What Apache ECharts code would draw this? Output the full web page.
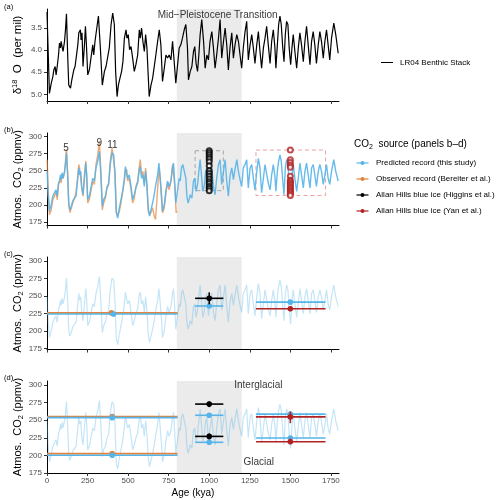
<!DOCTYPE html>
<html><head><meta charset="utf-8">
<script src="https://cdn.jsdelivr.net/npm/echarts@6/dist/echarts.min.js"></script>
<style>html,body{margin:0;padding:0;background:#fff}#c{width:500px;height:500px}</style>
</head><body><div id="c"></div>
<script>
// ---------- DATA ----------
// (a) LR04 benthic stack, delta18O (per mil) vs age (kya)
const lr04Age = [0,15,26,36,42,50,56,63,71,77,83,87,93,99,108,114,120,128,134,145,153,165,173,181,190,196,202,206,210,216,222,231,237,243,251,261,272,282,288,296,307,317,329,341,354,364,374,384,395,405,415,423,432,440,452,460,468,477,487,493,501,509,518,528,538,548,559,569,575,583,591,600,608,616,630,641,651,657,671,682,692,702,712,723,733,743,753,764,774,784,794,805,815,825,835,846,856,866,872,883,
893,903,911,919,928,936,944,954,965,975,985,995,1005,1016,1026,1036,1046,1057,1067,1077,1088,1098,1108,1118,1128,1139,1149,1159,1170,1180,1190,1200,1210,1221,1231,1241,1252,1262,1272,1282,1293,1303,1313,1323,1334,1344,1354,1364,1375,1385,1395,1405,1411,1420,1428,1436,1444,1452,1461,1469,1477,1485,1493,1502,1510,1518,1528,1539,1549,1559,1569,1580,1590,1600,1610,1621,1631,1641,1651,1661,1672,1682,1692,1703,1713,1723,1733,1743,1754,1768,1780,1795];
const lr04D18O = [3.14,4.98,4.75,4.60,4.45,4.37,4.56,4.37,4.11,3.84,3.95,3.80,3.92,4.03,3.80,3.54,3.18,4.18,4.79,4.86,4.67,4.45,4.37,4.41,3.88,3.61,3.65,3.54,3.77,3.61,4.37,3.88,3.46,3.88,4.56,4.45,4.48,3.88,4.11,3.80,3.50,3.23,3.95,4.79,4.48,4.37,4.41,3.95,3.42,3.16,3.42,4.48,5.05,4.79,4.60,4.48,4.26,3.73,3.54,3.73,3.65,3.99,3.92,4.18,4.48,4.33,4.11,3.54,3.73,3.50,3.80,4.03,3.65,3.95,5.05,4.79,4.64,4.48,4.11,3.80,3.54,3.88,4.71,4.41,4.11,4.18,4.11,4.22,3.80,4.26,4.75,4.71,3.95,3.88,3.73,3.54,3.42,3.95,4.67,4.48,
4.37,4.03,3.92,4.30,4.48,4.11,3.65,3.31,3.80,4.41,4.11,4.22,3.80,3.58,3.95,4.41,4.11,3.73,3.31,4.18,3.80,3.50,3.88,4.45,3.95,3.61,4.18,3.88,3.65,3.80,4.11,4.41,3.95,3.58,3.35,4.22,3.88,3.65,3.95,4.30,3.88,3.58,4.03,4.41,3.95,3.73,3.46,3.88,4.30,3.80,3.54,3.95,4.41,3.88,3.42,3.23,3.42,3.88,4.26,3.65,3.35,3.42,3.95,4.33,3.95,3.65,4.03,4.41,3.95,3.61,3.88,4.26,3.80,3.46,3.88,4.33,3.80,3.58,3.88,4.30,3.88,3.58,3.80,4.18,3.80,3.54,3.88,4.22,3.73,3.39,3.65,4.07];

// (b-d) Predicted CO2 record (this study), ppmv
const predAge = [1,7,15,26,36,46,56,63,71,77,83,87,93,99,108,114,120,128,134,140,149,159,169,179,190,196,202,208,214,222,231,239,245,251,261,272,282,292,302,313,323,333,341,349,360,370,380,390,401,411,419,427,436,446,456,466,477,483,491,497,507,518,528,538,548,559,569,575,583,591,600,608,616,624,632,641,651,661,671,682,690,698,706,712,723,733,743,753,764,774,780,788,794,805,815,821,829,837,846,856,862,870,878,
883,893,903,911,919,928,936,944,952,960,969,977,985,995,1005,1016,1026,1036,1046,1057,1067,1077,1088,1098,1108,1118,1128,1139,1149,1159,1170,1180,1190,1200,1210,1221,1231,1241,1252,1262,1272,1282,1293,1303,1313,1323,1334,1344,1354,1364,1375,1385,1395,1405,1411,1420,1428,1436,1444,1452,1461,1469,1477,1485,1493,1502,1510,1518,1528,1539,1549,1559,1569,1580,1590,1600,1610,1621,1631,1641,1651,1661,1672,1682,1692,1703,1713,1723,1733,1743,1754,1768,1780,1795];
const predCO2 = [249,215,191,201,213,218,222,213,232,235,244,237,247,239,249,259,276,239,203,193,198,206,210,213,239,254,244,249,227,215,239,261,244,208,213,215,239,235,254,264,278,239,198,208,213,225,230,259,276,273,244,189,181,196,208,220,239,256,254,239,244,227,208,215,225,232,252,256,239,244,227,249,230,196,184,193,203,215,230,244,261,239,215,191,201,220,235,227,235,254,261,230,203,201,239,235,254,259,261,239,213,203,210,
215,210,235,239,220,230,249,266,244,220,227,247,254,222,239,254,227,215,239,259,266,230,249,266,235,213,242,254,237,252,266,249,237,227,254,259,266,225,254,259,239,222,249,268,254,218,239,259,261,232,222,244,259,242,220,249,264,273,264,239,215,254,266,259,230,210,244,259,239,220,239,261,244,225,249,261,244,225,254,259,244,227,249,259,249,230,244,259,239,230,249,266,249,235];

// (b) Observed CO2 record (Bereiter et al.), ppmv
const obsAge = [1,7,15,26,36,46,56,63,71,77,83,87,93,99,108,114,120,128,134,142,149,159,169,179,190,196,202,208,214,222,231,239,245,251,261,272,282,292,302,313,323,333,341,349,360,370,380,390,401,411,419,427,436,446,456,466,477,483,491,497,507,518,528,538,548,559,569,575,583,591,600,608,616,624,632,641,651,661,669,677,686,692,698,706,712,723,733,743,753,764,774,780,788,796,802];
const obsCO2 = [266,225,186,193,208,213,220,208,230,232,239,232,244,239,247,264,281,244,201,189,191,203,210,218,244,259,252,254,225,213,244,264,239,203,208,210,235,230,259,273,293,244,193,203,210,227,232,264,283,281,249,191,184,191,203,218,235,249,252,235,239,222,203,210,227,235,256,266,244,249,232,254,227,191,186,189,196,184,179,206,239,254,237,208,189,196,218,232,222,235,259,261,227,189,191];

// (b) Allan Hills blue ice samples (~1000 kya and ~1500 kya)
const higginsAge = 1000;
const higginsCO2 = [279,276,273,270,267,263,257,250,246,242,238,234,231,227,224,221];
const yanAge = 1500;
const yanCO2 = [280,266,262,258,255,242,236,234,232,230,228,226,224,222,220,218,216,214];
const higginsWindow = [913, 1087];
const yanWindow = [1288, 1717];

// (c) mean CO2: [age, mean, windowStart, windowEnd, low, high]
const cObserved  = [[398, 226.2, 0, 805, 226.2, 226.2]];
const cPredicted = [[410, 224.6, 0, 805, 224.6, 224.6], [1000, 236, 913, 1087, 236, 236], [1500, 241.5, 1288, 1717, 241.5, 241.5]];
const cHiggins   = [[1000, 247, 913, 1087, 238.5, 255.5]];
const cYan       = [[1500, 232, 1288, 1717, 228.5, 235.5]];

// (d) interglacial / glacial CO2: [age, value, windowStart, windowEnd, low, high]
const dObserved  = [[402, 255.2, 0, 805, 255.2, 255.2], [402, 202.5, 0, 805, 202.5, 202.5]];
const dPredicted = [[402, 253.6, 0, 805, 253.6, 253.6], [402, 200.3, 0, 805, 200.3, 200.3], [1000, 257, 913, 1087, 257, 257], [1000, 218.6, 913, 1087, 218.6, 218.6], [1500, 258.6, 1288, 1717, 258.6, 258.6], [1500, 224.7, 1288, 1717, 224.7, 224.7]];
const dHiggins   = [[1000, 272.9, 913, 1087, 268.6, 276.6], [1000, 227, 913, 1087, 223, 231]];
const dYan       = [[1500, 254.7, 1288, 1717, 245.7, 262.3], [1500, 219.4, 1288, 1717, 216, 224]];

const mptWindow = [800, 1200];
const xTicks = [0, 250, 500, 750, 1000, 1250, 1500, 1750];
const d18oTicks = [3.5, 4.0, 4.5, 5.0];
const co2Ticks = [175, 200, 225, 250, 275, 300];
const miseLabels = ['5', '9', '11'];
const miseAge = [118, 323, 403];
const miseCO2 = [282, 290, 287];

// ---------- STYLE ----------
const FONT = 'Liberation Sans, Arial, Helvetica, sans-serif';
const BLUE = '#56B4E9', ORANGE = '#E3843A', BLACK = '#000000', RED = '#B22222', SHADE = '#EBEBEB';

const zip = (a, b) => a.map((v, i) => [v, b[i]]);

const chart = echarts.init(document.getElementById('c'), null, {renderer: 'canvas'});

const grids = [
  {left: 47, top: 9, width: 292, height: 92},
  {left: 47, top: 133, width: 292, height: 92.5},
  {left: 47, top: 257, width: 292, height: 92.5},
  {left: 47, top: 381, width: 292, height: 92}
];

const xAxes = grids.map((g, i) => ({
  gridIndex: i, type: 'value', min: 0, max: 1800,
  axisLine: {show: true, onZero: false, lineStyle: {color: '#000', width: 1}},
  axisTick: {show: true, length: 3, customValues: xTicks, lineStyle: {color: '#333'}},
  axisLabel: {show: i === 3, customValues: xTicks, fontSize: 8, color: '#4D4D4D', margin: 4, fontFamily: FONT, formatter: v => String(v)},
  splitLine: {show: false},
  name: i === 3 ? 'Age (kya)' : '', nameLocation: 'middle', nameGap: 15, nameMoveOverlap: false,
  nameTextStyle: {fontSize: 10, color: '#000', fontFamily: FONT}
}));

const co2Name = '{n|Atmos.  CO}{s|2}{n| (ppmv)}';
const co2Rich = {n: {fontSize: 11, fontFamily: FONT, color: '#000'}, s: {fontSize: 7.5, fontFamily: FONT, color: '#000', padding: [6, 0, 0, 0]}};
const yBase = (i, min, max, ticks, inverse, name, rich, fmt) => ({
  gridIndex: i, type: 'value', min, max, inverse,
  axisLine: {show: true, onZero: false, lineStyle: {color: '#000', width: 1}},
  axisTick: {show: true, length: 3, customValues: ticks, lineStyle: {color: '#333'}},
  axisLabel: {customValues: ticks, fontSize: 8, color: '#4D4D4D', margin: 5, fontFamily: FONT, formatter: fmt},
  splitLine: {show: false},
  name, nameLocation: 'middle', nameGap: 22, nameRotate: 90, nameMoveOverlap: false,
  nameTextStyle: {rich, fontFamily: FONT}
});
const yAxes = [
  yBase(0, 3.07, 5.15, d18oTicks, true, '{n|δ}{s|18}{n|  O  (per mil)}',
    {n: {fontSize: 11.5, fontFamily: FONT, color: '#000'}, s: {fontSize: 7.5, fontFamily: FONT, color: '#000', padding: [0, 0, 6, 0]}}, v => v.toFixed(1)),
  yBase(1, 170.3, 304.8, co2Ticks, false, co2Name, co2Rich, v => String(v)),
  yBase(2, 173.9, 306, co2Ticks, false, co2Name, co2Rich, v => String(v)),
  yBase(3, 175, 305.7, co2Ticks, false, co2Name, co2Rich, v => String(v))
];

function shadeSeries(i) {
  return {
    type: 'custom', xAxisIndex: i, yAxisIndex: i, z: 0, silent: true,
    data: [mptWindow],
    renderItem: (params, api) => {
      const cs = params.coordSys;
      const x0 = api.coord([api.value(0), 250])[0];
      const x1 = api.coord([api.value(1), 250])[0];
      return {type: 'rect', shape: {x: x0, y: cs.y, width: x1 - x0, height: cs.height}, style: {fill: SHADE}};
    }
  };
}

function errSeries(i, data, color, z) {
  return {
    type: 'custom', xAxisIndex: i, yAxisIndex: i, z: z || 5, silent: true, data,
    renderItem: (params, api) => {
      const xc = api.value(0), y = api.value(1), x0 = api.value(2), x1 = api.value(3), lo = api.value(4), hi = api.value(5);
      const pL = api.coord([x0, y]), pR = api.coord([x1, y]), pC = api.coord([xc, y]);
      const ch = [{type: 'line', shape: {x1: pL[0], y1: pL[1], x2: pR[0], y2: pR[1]}, style: {stroke: color, lineWidth: 1.6}}];
      if (hi !== lo) {
        const a = api.coord([xc, lo]), b = api.coord([xc, hi]);
        ch.push({type: 'line', shape: {x1: a[0], y1: a[1], x2: b[0], y2: b[1]}, style: {stroke: color, lineWidth: 1.6}});
      }
      ch.push({type: 'circle', shape: {cx: pC[0], cy: pC[1], r: 2.8}, style: {fill: color}});
      return {type: 'group', children: ch};
    }
  };
}

function boxSeries(i, win, vals, color) {
  return {
    type: 'custom', xAxisIndex: i, yAxisIndex: i, z: 3, silent: true,
    data: [[win[0], win[1], Math.min(...vals), Math.max(...vals)]],
    renderItem: (params, api) => {
      const p0 = api.coord([api.value(0), api.value(3)]);
      const p1 = api.coord([api.value(1), api.value(2)]);
      return {type: 'rect', shape: {x: p0[0], y: p0[1], width: p1[0] - p0[0], height: p1[1] - p0[1]},
        style: {fill: 'none', stroke: color, lineWidth: 1, lineDash: [4, 3]}};
    }
  };
}

const lineS = (i, data, color, opacity, width, z) => ({
  type: 'line', xAxisIndex: i, yAxisIndex: i, data, showSymbol: false, symbol: 'none', silent: true, z: z || 2,
  lineStyle: {color, width, opacity}, animation: false
});

const textS = (i, data, fontSize, align) => ({
  type: 'scatter', xAxisIndex: i, yAxisIndex: i, symbolSize: 0, silent: true, z: 10,
  data,
  label: {show: true, position: 'inside', formatter: p => p.name, fontSize, color: '#000', fontFamily: FONT, align: align || 'center'}
});

const series = [
  shadeSeries(0), shadeSeries(1), shadeSeries(2), shadeSeries(3),
  lineS(0, zip(lr04Age, lr04D18O), '#000', 1, 1.2),
  textS(0, [{name: 'Mid\u2212Pleistocene Transition', value: [1052, 3.22]}], 10),
  lineS(1, zip(obsAge, obsCO2), ORANGE, 0.7, 1.4, 2),
  lineS(1, zip(predAge, predCO2), BLUE, 0.9, 1.4, 3),
  boxSeries(1, higginsWindow, higginsCO2, '#A6A6A6'),
  boxSeries(1, yanWindow, yanCO2, '#EBA3A3'),
  {type: 'scatter', xAxisIndex: 1, yAxisIndex: 1, z: 6, silent: true, symbol: 'emptyCircle', symbolSize: 5,
    data: higginsCO2.map(v => [higginsAge, v]), itemStyle: {color: BLACK, borderWidth: 1}},
  {type: 'scatter', xAxisIndex: 1, yAxisIndex: 1, z: 6, silent: true, symbol: 'emptyCircle', symbolSize: 5,
    data: yanCO2.map(v => [yanAge, v]), itemStyle: {color: RED, borderWidth: 1}},
  textS(1, miseLabels.map((t, k) => ({name: t, value: [miseAge[k], miseCO2[k]]})), 10),
  lineS(2, zip(predAge, predCO2), BLUE, 0.35, 1.2, 2),
  errSeries(2, cObserved, ORANGE, 5),
  errSeries(2, cPredicted, BLUE, 6),
  errSeries(2, cHiggins, BLACK, 7),
  errSeries(2, cYan, RED, 7),
  lineS(3, zip(predAge, predCO2), BLUE, 0.35, 1.2, 2),
  errSeries(3, dObserved, ORANGE, 5),
  errSeries(3, dPredicted, BLUE, 6),
  errSeries(3, dHiggins, BLACK, 7),
  errSeries(3, dYan, RED, 7),
  textS(3, [{name: 'Interglacial', value: [1154, 299]}, {name: 'Glacial', value: [1211, 190]}], 10, 'left')
];

// legend / panel labels (graphics)
const legendLabels = ['Predicted record (this study)', 'Observed record (Bereiter et al.)', 'Allan Hills blue ice (Higgins et al.)', 'Allan Hills blue ice (Yan et al.)'];
const legendColors = [BLUE, ORANGE, BLACK, RED];
const graphic = [];
[['(a)', 7], ['(b)', 130], ['(c)', 254], ['(d)', 378]].forEach(([t, y]) => graphic.push({
  type: 'text', left: 4, top: y - 4, style: {text: t, fontSize: 7.5, fontFamily: FONT, fill: '#000'}}));
graphic.push({type: 'line', shape: {x1: 381, y1: 62.5, x2: 393, y2: 62.5}, style: {stroke: '#000', lineWidth: 1}});
graphic.push({type: 'text', x: 400, y: 62.5, style: {text: 'LR04 Benthic Stack', fontSize: 8, fontFamily: FONT, fill: '#000', verticalAlign: 'middle'}});
graphic.push({type: 'text', x: 354, y: 144, style: {text: '{n|CO}{s|2}{n|  source (panels b\u2013d)}', verticalAlign: 'middle',
  rich: {n: {fontSize: 10, fontFamily: FONT, fill: '#000'}, s: {fontSize: 7, fontFamily: FONT, fill: '#000', padding: [6, 0, 0, 0]}}}});
legendLabels.forEach((t, k) => {
  const y = 163 + k * 16;
  graphic.push({type: 'line', shape: {x1: 356.5, y1: y, x2: 368.5, y2: y}, style: {stroke: legendColors[k], lineWidth: 1.2}});
  graphic.push({type: 'circle', shape: {cx: 362.5, cy: y, r: 2}, style: {fill: legendColors[k]}});
  graphic.push({type: 'text', x: 376, y, style: {text: t, fontSize: 8, fontFamily: FONT, fill: '#000', verticalAlign: 'middle'}});
});

chart.setOption({
  animation: false,
  backgroundColor: '#fff',
  textStyle: {fontFamily: FONT},
  grid: grids,
  xAxis: xAxes,
  yAxis: yAxes,
  series,
  graphic
});
</script></body></html>
